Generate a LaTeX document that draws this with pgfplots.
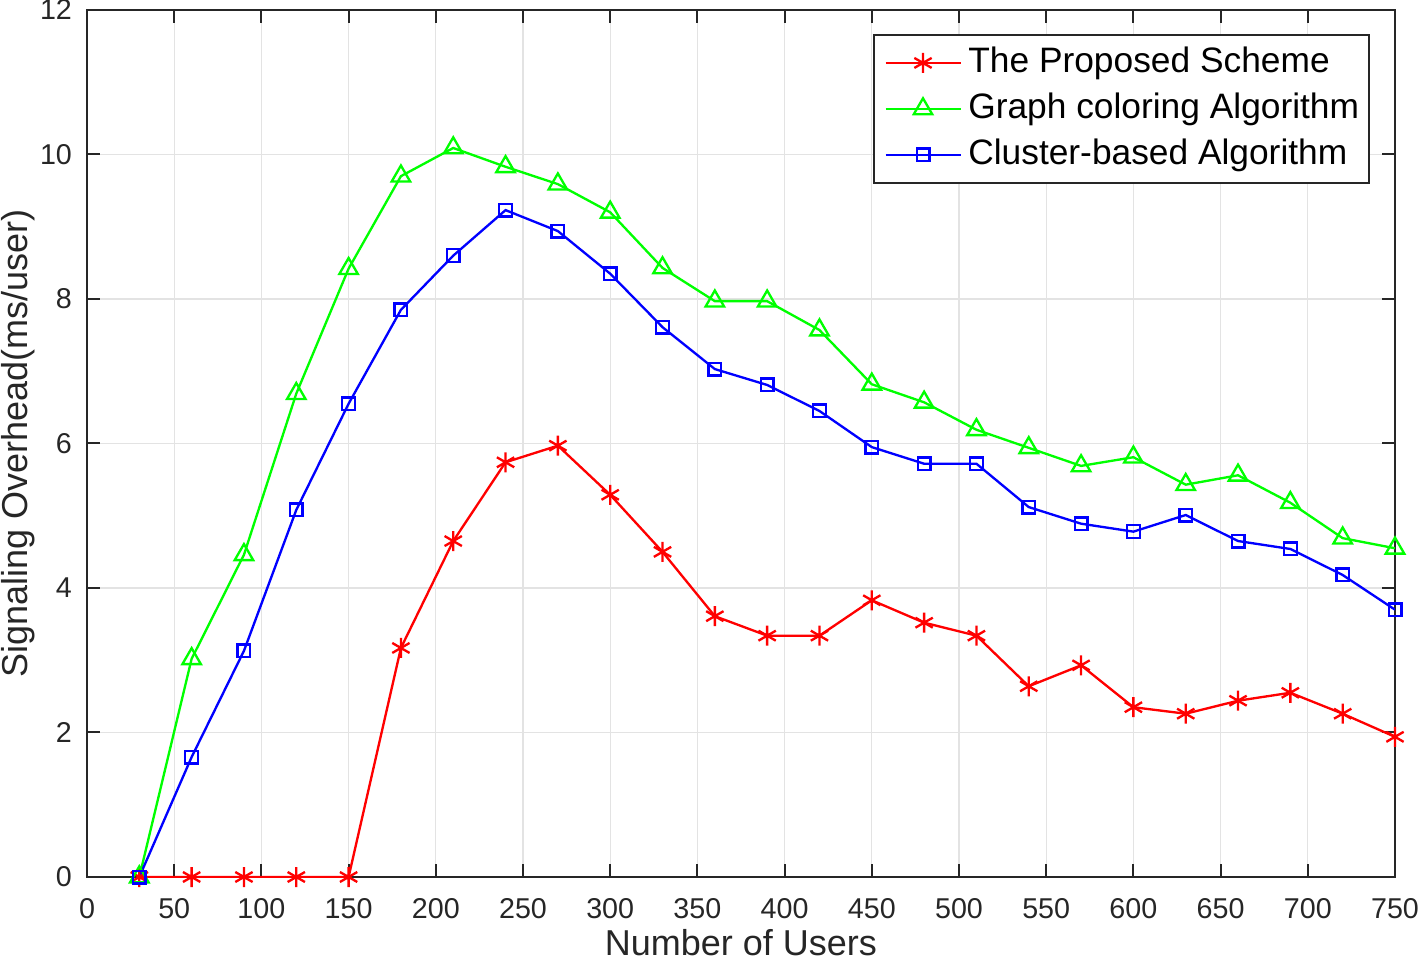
\documentclass[border=0pt]{standalone}
\usepackage{fontspec}
\setmainfont{Liberation Sans}
\usepackage{pgfplots}
\pgfplotsset{compat=1.18}
\definecolor{axgray}{RGB}{38,38,38}
\definecolor{mgreen}{RGB}{0,255,0}
\begin{document}
\begin{tikzpicture}
\begin{axis}[
  name=ax,
  scale only axis,
  width=392.4pt, height=260.1pt,
  xmin=0, xmax=750, ymin=0, ymax=12,
  xtick={0,50,...,750}, ytick={0,2,...,12},
  /pgf/number format/assume math mode=true,
  ticklabel style={font=\fontsize{8.6}{10}\selectfont, text=axgray},
  xticklabel style={yshift=-3pt},
  yticklabel style={xshift=-1pt},
  label style={font=\fontsize{10.8}{12}\selectfont, text=axgray},
  xlabel={Number of Users},
  ylabel={Signaling Overhead(ms/user)},
  xlabel style={at={(axis description cs:0.5,-0.0755)}, anchor=center},
  ylabel style={at={(axis description cs:-0.0528,0.5)}, anchor=center},
  axis line style={axgray, line width=0.6pt},
  tick style={axgray, line width=0.6pt},
  tick align=inside,
  major tick length=3.9pt,
  grid=major,
  grid style={gray!22, line width=0.4pt},
  legend cell align=left,
  legend style={at={(0.981,0.972)}, anchor=north east,
    font=\fontsize{10.6}{13.8}\selectfont, draw=axgray, line width=0.6pt,
    inner xsep=2pt, inner ysep=1.4pt,
    nodes={inner xsep=1pt, inner ysep=1.5pt, text height=8.3pt, text depth=2.5pt}},
  legend image code/.code={
    \path (0pt,0pt) (24.7pt,0pt);
    \draw[mark repeat=2, mark phase=2] plot coordinates {(1.2pt,0pt) (12.45pt,0pt) (23.7pt,0pt)};},
  every axis plot/.append style={line width=0.7pt},
]
\addplot[red, mark=asterisk, mark size=3.0pt] coordinates {
  (30,0) (60,0) (90,0) (120,0) (150,0) (180,3.17) (210,4.65) (240,5.74)
  (270,5.97) (300,5.29) (330,4.50) (360,3.61) (390,3.34) (420,3.34)
  (450,3.83) (480,3.52) (510,3.34) (540,2.64) (570,2.93) (600,2.35)
  (630,2.26) (660,2.44) (690,2.55) (720,2.26) (750,1.94)
};
\addlegendentry{The Proposed Scheme}
\addplot[mgreen, mark=triangle, mark size=3.2pt] coordinates {
  (30,0) (60,3.02) (90,4.46) (120,6.69) (150,8.42) (180,9.70) (210,10.09)
  (240,9.83) (270,9.59) (300,9.20) (330,8.43) (360,7.97) (390,7.97)
  (420,7.57) (450,6.82) (480,6.57) (510,6.19) (540,5.94) (570,5.69)
  (600,5.81) (630,5.43) (660,5.56) (690,5.18) (720,4.69) (750,4.55)
};
\addlegendentry{Graph coloring Algorithm}
\addplot[blue, mark=square, mark size=1.9pt] coordinates {
  (30,0) (60,1.66) (90,3.13) (120,5.08) (150,6.55) (180,7.85) (210,8.60)
  (240,9.23) (270,8.94) (300,8.35) (330,7.61) (360,7.03) (390,6.81)
  (420,6.45) (450,5.95) (480,5.72) (510,5.72) (540,5.12) (570,4.89)
  (600,4.78) (630,5.01) (660,4.65) (690,4.54) (720,4.18) (750,3.70)
};
\addlegendentry{Cluster-based Algorithm}
\end{axis}
\pgfresetboundingbox
\path ([shift={(-26.1pt,-25.8pt)}]ax.south west) rectangle ([shift={(6.9pt,3pt)}]ax.north east);
\end{tikzpicture}
\end{document}
